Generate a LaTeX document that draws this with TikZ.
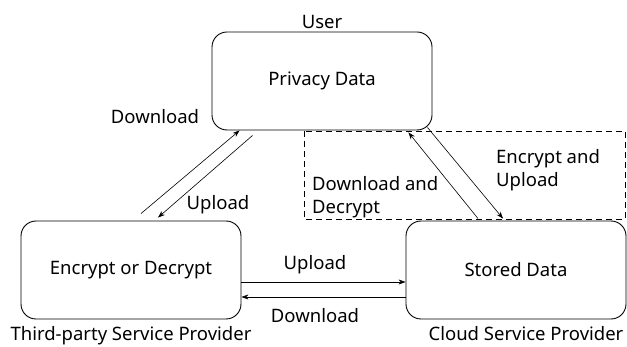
\documentclass[tikz,border=0pt]{standalone}
\usepackage{fontspec}
\setmainfont{Noto Sans}
\usetikzlibrary{positioning,arrows.meta}

\begin{document}
\begin{tikzpicture}[
    x=1pt, y=-1pt,
    font=\fontsize{18.5}{23}\selectfont,
    party/.style={draw, line width=0.9pt, rounded corners=15pt,
                  minimum width=220pt, minimum height=98pt, inner sep=0pt},
    flow/.style={line width=0.6pt, -{Stealth[length=7pt, width=5pt]}},
    lbl/.style={inner sep=1pt},
    note/.style={inner sep=1pt, align=left, anchor=west}
]
\useasboundingbox (0,0) rectangle (627,347);

% ---------- the three parties ----------
\node[party] (priv)   at (322,81)  {Privacy Data};
\node[party] (enc)    at (131,270) {Encrypt or Decrypt};
\node[party] (stored) at (516,270) {Stored Data};

\node[lbl, above=2pt of priv]                 (user)  {User};
\node[lbl, below=6pt of enc]                  (third) {Third-party Service Provider};
\node[lbl, below=6pt of stored, xshift=10pt]  (cloud) {Cloud Service Provider};

% dashed area between user and cloud
\draw[dash pattern=on 6pt off 4pt, line width=0.6pt] (304,131) rectangle (625,219);

% ---------- user <-> third party ----------
\draw[flow] ([xshift=10pt, yshift=7pt]enc.north) -- ([xshift=28pt]priv.south west);
\draw[flow] ([xshift=41pt, yshift=-5pt]priv.south west) -- ([xshift=27pt, yshift=3pt]enc.north);
\node[lbl] (dl1) at (155,117) {Download};
\node[lbl] (ul1) at (218,205) {Upload};

% ---------- user <-> cloud ----------
\draw[flow] ([xshift=-38pt, yshift=2pt]stored.north) -- ([xshift=-24pt, yshift=-2pt]priv.south east);
\draw[flow] ([xshift=-5pt, yshift=3pt]priv.south east) -- ([xshift=-13pt, yshift=2pt]stored.north);
\node[note] (dl2) at (311,197) {Download and\\Decrypt};
\node[note] (ul2) at (495,170) {Encrypt and\\Upload};

% ---------- third party <-> cloud ----------
\draw[flow] ([yshift=-12pt]enc.east) -- ([yshift=-12pt]stored.west);
\draw[flow] ([yshift=-27pt]stored.west) -- ([yshift=-27pt]enc.east);
\node[lbl] (ul3) at (315,265) {Upload};
\node[lbl] (dl3) at (315,316) {Download};

\end{tikzpicture}
\end{document}
